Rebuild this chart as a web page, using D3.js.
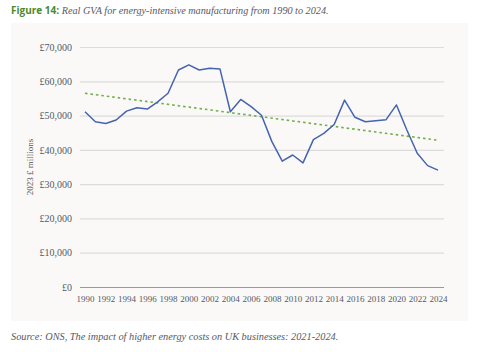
<!DOCTYPE html>
<html><head><meta charset="utf-8">
<script src="https://cdn.jsdelivr.net/npm/d3@7"></script>
<style>
html,body{margin:0;padding:0;background:#fff;}
svg{display:block;}
</style></head>
<body>
<svg id="c" width="495" height="352"></svg>
<script>
const years = d3.range(1990, 2025);
const gva = [51100,48200,47700,48700,51300,52300,51900,54000,56500,63300,64800,63300,63800,63600,51100,54700,52600,50100,42400,36700,38500,36200,43000,44800,47400,54500,49500,48200,48500,48800,53100,45800,39000,35400,34100];
const trendYears = [1990, 2024];
const trendValues = [56500, 42800];
const yTicks = [0,10000,20000,30000,40000,50000,60000,70000];
const xTicks = d3.range(1990, 2025, 2);

const svg = d3.select("#c");
svg.append("rect").attr("x",11).attr("y",23).attr("width",457).attr("height",298).attr("fill","#faf9f7");

const title = svg.append("text").attr("x",11).attr("y",14).attr("font-size",10);
title.append("tspan").attr("font-family","'Open Sans', sans-serif").attr("font-weight","bold").attr("fill","#4a8a2c").text("Figure 14: ");
title.append("tspan").attr("font-family","'Liberation Serif', serif").attr("font-style","italic").attr("font-size",10.2).attr("fill","#555a66").text("Real GVA for energy-intensive manufacturing from 1990 to 2024.");

const x = d3.scaleLinear().domain([1990,2024]).range([85,438]);
const y = d3.scaleLinear().domain([0,70000]).range([287,47]);

const fmt = v => "£" + d3.format(",")(v);
const yAxis = svg.append("g").attr("transform","translate(80,0)")
  .call(d3.axisLeft(y).tickValues(yTicks).tickFormat(fmt).tickSize(-364).tickPadding(8));
yAxis.select(".domain").remove();
yAxis.selectAll(".tick line").attr("stroke","#dcdcdc").attr("stroke-width",1.2);
yAxis.selectAll(".tick").filter(d=>d===0).select("line").attr("stroke","#999").attr("stroke-width",1.2);
yAxis.selectAll("text").attr("font-family","'Liberation Serif', serif").attr("font-size",10).attr("fill","#555a66");

const xAxis = svg.append("g").attr("transform","translate(0,287)")
  .call(d3.axisBottom(x).tickValues(xTicks).tickFormat(d3.format("d")).tickSize(0).tickPadding(9));
xAxis.select(".domain").remove();
xAxis.selectAll("text").attr("font-family","'Liberation Serif', serif").attr("font-size",9).attr("fill","#555a66");

svg.append("text").attr("transform","translate(33,167) rotate(-90)").attr("text-anchor","middle")
  .attr("font-family","'Liberation Serif', serif").attr("font-size",9).attr("fill","#555a66").text("2023 £ millions");

svg.append("path").datum(trendYears.map((t,i)=>[t,trendValues[i]]))
  .attr("fill","none").attr("stroke","#70ad47").attr("stroke-width",1.6).attr("stroke-dasharray","2.5,3")
  .attr("d", d3.line().x(d=>x(d[0])).y(d=>y(d[1])));

svg.append("path").datum(years.map((t,i)=>[t,gva[i]]))
  .attr("fill","none").attr("stroke","#4564b0").attr("stroke-width",1.5).attr("stroke-linejoin","round")
  .attr("d", d3.line().x(d=>x(d[0])).y(d=>y(d[1])));

svg.append("text").attr("x",11).attr("y",340).attr("font-family","'Liberation Serif', serif").attr("font-style","italic")
  .attr("font-size",10.3).attr("fill","#555a66").text("Source: ONS, The impact of higher energy costs on UK businesses: 2021-2024.");
</script>
</body></html>
